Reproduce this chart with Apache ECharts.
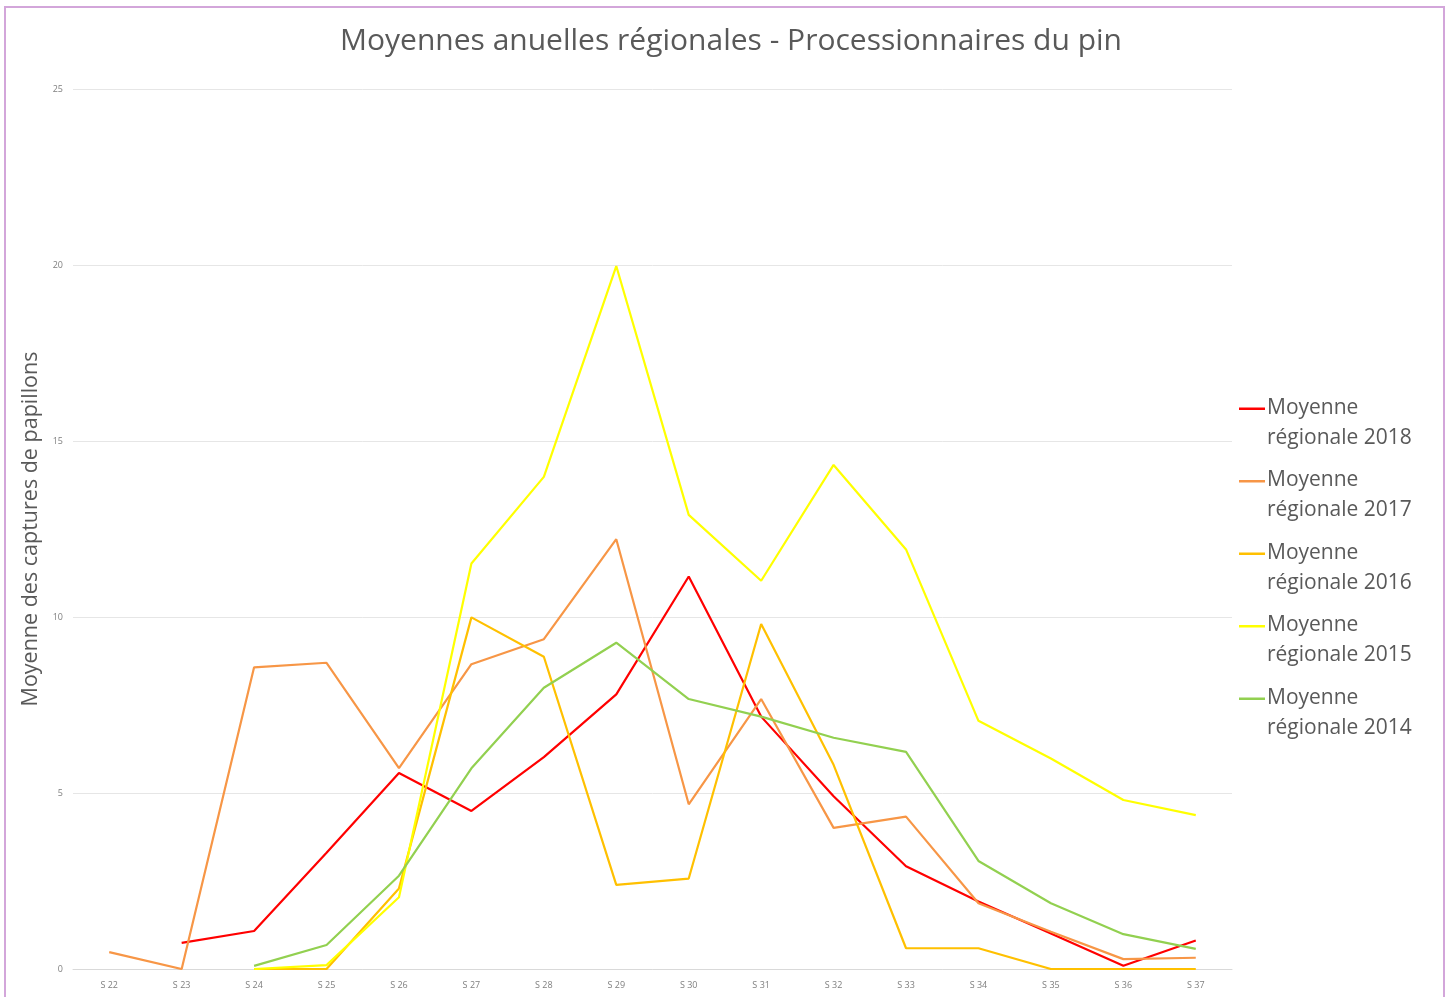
<!DOCTYPE html>
<html>
<head>
<meta charset="utf-8">
<title>Moyennes anuelles régionales - Processionnaires du pin</title>
<script src="https://cdn.jsdelivr.net/npm/echarts@6/dist/echarts.min.js"></script>
<style>
  html, body { margin: 0; padding: 0; background: #fff; }
  #container { width: 1453px; height: 997px; }
</style>
</head>
<body>
<div id="container"></div>
<script>
// semaines (axe x)
const weeks = ['S 22', 'S 23', 'S 24', 'S 25', 'S 26', 'S 27', 'S 28', 'S 29',
  'S 30', 'S 31', 'S 32', 'S 33', 'S 34', 'S 35', 'S 36', 'S 37'];

// moyennes par année (null = pas de relevé)
const moy2018 = [null, 0.74, 1.08, 3.3, 5.57, 4.49, 6.02, 7.8, 11.15, 7.17, 4.91, 2.92, 1.92, 1.01, 0.09, 0.81];
const moy2017 = [0.48, 0, 8.57, 8.7, 5.71, 8.66, 9.37, 12.21, 4.68, 7.67, 4.01, 4.33, 1.87, 1.06, 0.28, 0.32];
const moy2016 = [null, null, 0, 0, 2.29, 9.99, 8.87, 2.39, 2.57, 9.8, 5.8, 0.59, 0.59, 0, 0, 0];
const moy2015 = [null, null, 0, 0.11, 2.04, 11.52, 13.98, 19.97, 12.9, 11.03, 14.32, 11.92, 7.05, 5.98, 4.8, 4.37];
const moy2014 = [null, null, 0.09, 0.68, 2.65, 5.7, 7.99, 9.27, 7.67, 7.17, 6.57, 6.17, 3.07, 1.87, 0.99, 0.57];

const yTicks = [0, 5, 10, 15, 20, 25];

const seriesNames = ['Moyenne\nrégionale 2018', 'Moyenne\nrégionale 2017', 'Moyenne\nrégionale 2016',
  'Moyenne\nrégionale 2015', 'Moyenne\nrégionale 2014'];
const seriesData = [moy2018, moy2017, moy2016, moy2015, moy2014];
const colors = ['#FF0000', '#F79646', '#FFC000', '#FFFF00', '#92D050'];

const chart = echarts.init(document.getElementById('container'));

// trait de légende placé en haut de la case (aligné sur la 1re ligne du texte)
const legendIcon = 'path://M0,0h26v2.4h-26z M0,31h0.01v0.01h-0.01z';

chart.setOption({
  animation: false,
  color: colors,
  title: {
    text: 'Moyennes anuelles régionales - Processionnaires du pin',
    left: 726,
    textAlign: 'center',
    top: 21,
    textStyle: {
      fontFamily: 'Open Sans',
      fontSize: 30,
      fontWeight: 'normal',
      color: '#595959'
    }
  },
  legend: {
    orient: 'vertical',
    left: 1234,
    top: 388,
    itemWidth: 26,
    itemHeight: 32,
    itemGap: 12.5,
    icon: legendIcon,
    data: seriesNames,
    textStyle: {
      fontFamily: 'Open Sans',
      fontSize: 21,
      lineHeight: 30,
      color: '#595959',
      padding: [0, 0, 0, -3]
    }
  },
  grid: {
    left: 73,
    right: 221,
    top: 89,
    bottom: 28
  },
  xAxis: {
    type: 'category',
    data: weeks,
    boundaryGap: true,
    axisLine: { lineStyle: { color: '#D9D9D9' } },
    axisTick: { show: false },
    axisLabel: {
      fontFamily: 'Open Sans',
      fontSize: 9,
      color: '#7F7F7F',
      margin: 12
    }
  },
  yAxis: {
    type: 'value',
    min: 0,
    max: 25,
    interval: 5,
    name: 'Moyenne des captures de papillons',
    nameLocation: 'middle',
    nameGap: 25,
    nameTextStyle: {
      fontFamily: 'Open Sans',
      fontSize: 21.5,
      color: '#595959'
    },
    axisLine: { show: false },
    axisTick: { show: false },
    splitLine: { lineStyle: { color: '#E6E6E6' } },
    axisLabel: {
      fontFamily: 'Open Sans',
      fontSize: 9,
      color: '#7F7F7F',
      margin: 10,
      formatter: v => yTicks.includes(v) ? String(v) : ''
    }
  },
  graphic: [{
    type: 'rect',
    shape: { x: 5, y: 7, width: 1439, height: 1000 },
    style: { fill: 'none', stroke: '#D3A6DA', lineWidth: 2 },
    silent: true
  }],
  series: seriesNames.map((name, i) => ({
    name: name,
    type: 'line',
    data: seriesData[i],
    showSymbol: false,
    symbol: 'none',
    connectNulls: false,
    lineStyle: { width: 2.2, color: colors[i] },
    itemStyle: { color: colors[i] }
  }))
});
</script>
</body>
</html>
